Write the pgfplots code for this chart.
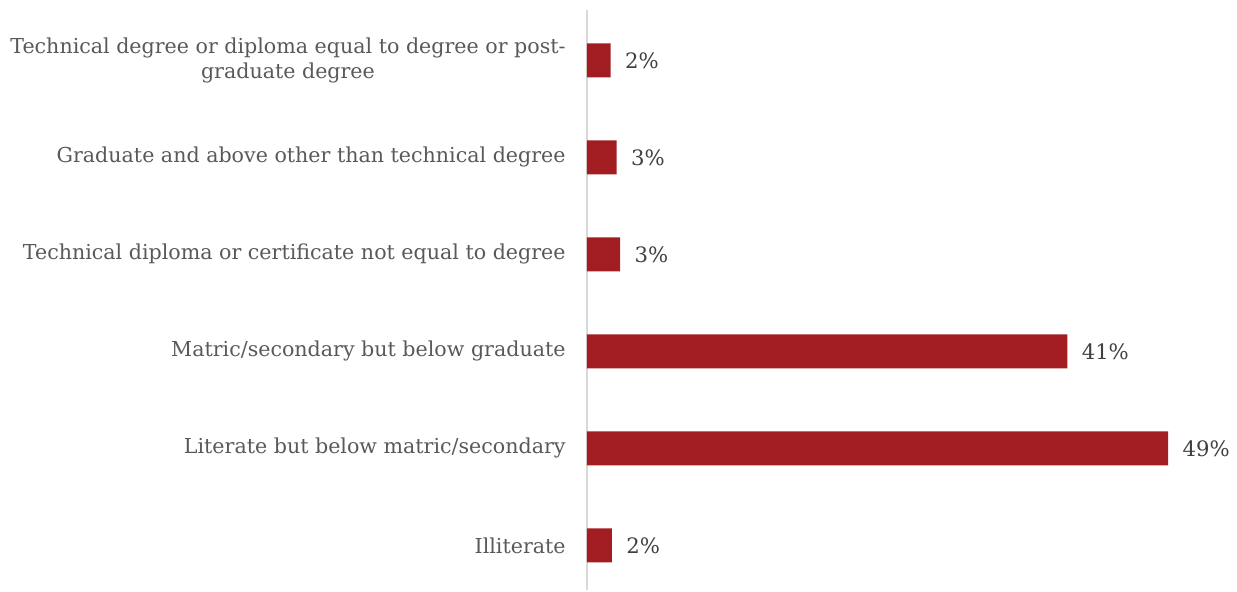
\documentclass[border=0pt]{standalone}
\usepackage{pgfplots}
\pgfplotsset{compat=1.18}
\usepackage{fontspec}
\setmainfont{DejaVu Serif}
\definecolor{barred}{HTML}{A21D21}
\definecolor{labgray}{HTML}{595959}
\definecolor{valgray}{HTML}{404040}
\definecolor{axgray}{HTML}{D9D9D9}
\begin{document}
\begin{tikzpicture}
\begin{axis}[
  scale only axis, width=325pt, height=290pt,
  xbar, xmin=0, xmax=54.8, ymin=-0.46, ymax=5.52,
  bar width=17pt,
  axis x line=none, axis y line*=left,
  y axis line style={axgray, line width=1pt},
  ytick={0,1,2,3,4,5}, major tick length=0pt,
  yticklabels={Illiterate,Literate but below matric/secondary,Matric/secondary but below graduate,Technical diploma or certificate not equal to degree,Graduate and above other than technical degree,{Technical degree or diploma equal to degree or post-\\graduate degree}},
  yticklabel style={font=\fontsize{10.3}{12.8}\selectfont, text=labgray, align=center, inner sep=0pt, xshift=-10.5pt},
  point meta=explicit symbolic,
  nodes near coords={\pgfplotspointmeta},
  nodes near coords style={anchor=west, inner sep=0pt, xshift=7pt, font=\fontsize{10.6}{12}\selectfont, text=valgray},
]
\addplot[fill=barred, draw=none] coordinates {(2.1,0)[2\%] (49,1)[49\%] (40.5,2)[41\%] (2.8,3)[3\%] (2.5,4)[3\%] (2.0,5)[2\%]};
\end{axis}
\path (-293.5pt,0) rectangle (325pt,295pt);
\end{tikzpicture}
\end{document}
